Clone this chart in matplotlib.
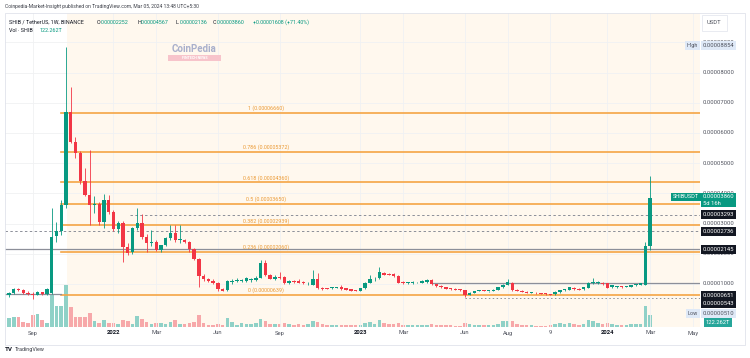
import numpy as np, pandas as pd
import matplotlib
matplotlib.use("Agg")
import matplotlib.pyplot as plt
from matplotlib.transforms import blended_transform_factory
from matplotlib.patches import Rectangle

plt.rcParams["font.family"] = ["Roboto", "DejaVu Sans"]

W, H = 750, 358          # output size in pixels
SC = 1e-5                # prices below are in units of 1e-5 USDT

# ── weekly SHIB/USDT candles (first week = 2021-08-02) ──
opens = [0.62, 0.70, 0.82, 0.79, 0.71, 0.67, 0.64, 0.72, 0.68, 0.70,
         2.58, 2.76, 3.61, 6.70, 5.71, 5.33, 4.42, 3.95, 3.61, 3.66,
         3.06, 3.78, 3.39, 2.81, 3.03, 2.23, 2.07, 2.84, 3.01, 2.57,
         2.36, 2.38, 2.12, 2.29, 2.53, 2.68, 2.46, 2.47, 2.38, 2.14,
         1.81, 1.26, 1.15, 1.10, 1.04, 0.82, 0.80, 1.06, 1.11, 1.11,
         1.10, 1.13, 1.13, 1.21, 1.70, 1.30, 1.16, 1.22, 1.22, 1.04,
         1.10, 1.11, 1.08, 1.02, 0.97, 1.15, 0.87, 0.85, 0.855, 0.88,
         0.91, 0.855, 0.82, 0.80, 0.78, 0.86, 1.04, 1.15, 1.19, 1.35,
         1.32, 1.32, 1.26, 1.08, 1.04, 1.02, 1.05, 1.04, 1.05, 1.13,
         0.99, 0.93, 0.89, 0.855, 0.83, 0.82, 0.80, 0.63, 0.71, 0.77,
         0.77, 0.76, 0.77, 0.81, 0.89, 0.97, 1.02, 0.80, 0.78, 0.74,
         0.71, 0.71, 0.69, 0.69, 0.67, 0.66, 0.72, 0.80, 0.80, 0.88,
         0.84, 0.82, 0.87, 1.02, 1.04, 1.04, 1.02, 0.89, 0.91, 0.91,
         0.90, 0.91, 0.95, 0.97, 0.97, 2.252]
highs = [0.74, 0.86, 0.88, 0.82, 0.76, 0.72, 0.76, 0.74, 0.86, 3.51,
         3.06, 3.78, 8.854, 7.53, 5.88, 5.39, 4.85, 5.43, 3.90, 3.70,
         3.98, 3.95, 3.45, 3.10, 3.10, 2.35, 2.90, 3.51, 3.31, 2.65,
         2.80, 2.45, 2.30, 2.55, 2.95, 2.95, 2.95, 2.50, 2.42, 2.18,
         1.86, 1.32, 1.20, 1.15, 1.08, 0.86, 1.12, 1.15, 1.18, 1.16,
         1.22, 1.18, 1.25, 1.78, 1.78, 1.34, 1.30, 1.41, 1.27, 1.12,
         1.14, 1.15, 1.10, 1.06, 1.46, 1.35, 0.90, 0.88, 0.90, 0.90,
         0.97, 0.87, 0.83, 0.81, 0.86, 1.06, 1.30, 1.22, 1.55, 1.40,
         1.35, 1.36, 1.28, 1.10, 1.08, 1.10, 1.08, 1.12, 1.15, 1.16,
         1.01, 0.95, 0.91, 0.87, 0.85, 0.83, 0.81, 0.72, 0.78, 0.80,
         0.79, 0.78, 0.83, 0.90, 0.99, 1.15, 1.05, 0.82, 0.79, 0.76,
         0.73, 0.73, 0.71, 0.70, 0.68, 0.75, 0.81, 0.82, 0.90, 0.90,
         0.85, 0.90, 1.05, 1.19, 1.10, 1.06, 1.04, 0.97, 0.93, 0.92,
         0.92, 0.97, 1.00, 1.03, 2.40, 4.567]
lows = [0.58, 0.68, 0.76, 0.68, 0.62, 0.51, 0.62, 0.62, 0.64, 0.66,
        2.40, 2.62, 3.50, 5.65, 5.16, 4.30, 3.90, 2.95, 3.35, 2.95,
        2.85, 3.30, 2.75, 2.70, 1.74, 1.95, 2.00, 2.80, 2.50, 2.07,
        2.25, 2.08, 2.05, 2.25, 2.45, 2.40, 2.35, 2.35, 2.05, 1.78,
        0.91, 1.10, 1.05, 1.00, 0.78, 0.76, 0.78, 1.00, 1.05, 1.08,
        1.06, 1.08, 1.10, 1.18, 1.25, 1.15, 1.13, 1.15, 1.00, 1.00,
        1.04, 1.02, 1.00, 0.98, 0.95, 0.83, 0.80, 0.82, 0.84, 0.86,
        0.80, 0.79, 0.77, 0.75, 0.76, 0.84, 1.02, 1.10, 1.16, 1.28,
        1.28, 1.24, 1.02, 1.00, 1.01, 1.00, 1.03, 1.02, 1.03, 0.97,
        0.91, 0.88, 0.83, 0.81, 0.79, 0.78, 0.58, 0.62, 0.70, 0.75,
        0.75, 0.74, 0.76, 0.79, 0.87, 0.95, 0.78, 0.76, 0.73, 0.69,
        0.69, 0.68, 0.66, 0.65, 0.63, 0.65, 0.71, 0.78, 0.79, 0.81,
        0.79, 0.81, 0.86, 1.00, 1.00, 0.97, 0.85, 0.87, 0.88, 0.88,
        0.89, 0.90, 0.93, 0.96, 0.95, 2.136]
closes = [0.70, 0.82, 0.79, 0.71, 0.67, 0.64, 0.72, 0.68, 0.82, 2.56,
          2.76, 3.61, 6.70, 5.71, 5.33, 4.42, 3.95, 3.61, 3.66, 3.06,
          3.78, 3.39, 2.81, 3.03, 2.23, 2.03, 2.84, 3.01, 2.57, 2.36,
          2.40, 2.12, 2.29, 2.53, 2.68, 2.46, 2.47, 2.38, 2.14, 1.81,
          1.26, 1.15, 1.10, 1.04, 0.82, 0.78, 1.10, 1.11, 1.13, 1.13,
          1.18, 1.13, 1.21, 1.70, 1.30, 1.16, 1.22, 1.20, 1.02, 1.10,
          1.08, 1.04, 1.02, 1.03, 1.15, 0.85, 0.82, 0.84, 0.89, 0.88,
          0.82, 0.80, 0.78, 0.77, 0.855, 1.04, 1.15, 1.17, 1.41, 1.30,
          1.31, 1.26, 1.04, 1.02, 1.04, 1.08, 1.06, 1.10, 1.13, 0.99,
          0.93, 0.89, 0.84, 0.82, 0.80, 0.80, 0.63, 0.71, 0.77, 0.77,
          0.76, 0.77, 0.81, 0.89, 0.97, 1.07, 0.80, 0.77, 0.74, 0.70,
          0.71, 0.69, 0.67, 0.66, 0.64, 0.74, 0.80, 0.80, 0.89, 0.82,
          0.80, 0.89, 1.02, 1.05, 1.04, 0.99, 0.865, 0.965, 0.91, 0.89,
          0.91, 0.965, 0.99, 1.02, 2.252, 3.860]
volumes_t = [90, 100, 100, 50, 40, 120, 130, 70, 40, 320,
             210, 210, 420, 200, 100, 100, 100, 140, 60, 40,
             70, 40, 40, 30, 70, 60, 30, 110, 80, 50,
             30, 40, 40, 30, 50, 70, 30, 30, 40, 50,
             120, 40, 25, 25, 30, 25, 90, 50, 25, 40,
             30, 30, 40, 80, 60, 35, 30, 30, 40, 30,
             25, 30, 25, 30, 60, 50, 35, 25, 20, 20,
             25, 20, 20, 20, 25, 45, 50, 35, 70, 45,
             30, 30, 40, 25, 20, 20, 20, 20, 25, 30,
             25, 20, 20, 20, 15, 15, 45, 30, 25, 20,
             20, 20, 25, 35, 60, 65, 60, 30, 25, 25,
             20, 15, 15, 15, 20, 35, 40, 30, 40, 30,
             25, 35, 70, 60, 40, 35, 45, 30, 25, 20,
             20, 30, 30, 35, 210, 122.262]

fib_ratio = ["0", "0.236", "0.382", "0.5", "0.618", "0.786", "1"]
fib_price = [0.639, 2.060, 2.939, 3.650, 4.360, 5.372, 6.660]

price_ticks = [1, 2, 3, 4, 5, 6, 7, 8, 9]
marker_prices = [3.293, 2.736, 2.145, 0.651, 0.543]   # black boxes on the scale

tick_dates = ["2021-09-06", "2022-01-03", "2022-03-07", "2022-06-06", "2022-09-05",
              "2023-01-02", "2023-03-06", "2023-06-05", "2023-08-07", "2023-10-09",
              "2024-01-01", "2024-03-04", "2024-05-06"]
tick_labels = ["Sep", "2022", "Mar", "Jun", "Sep", "2023", "Mar", "Jun", "Aug", "9",
               "2024", "Mar", "May"]

UP, DOWN = "#089981", "#f23645"
VUP, VDOWN = "#8fd1c7", "#f7a8aa"
FIB = "#f5a444"
FIBTXT = "#eb9a35"
GREY = "#8c8f99"
TXT = "#50535e"


def fx(px):
    return px / W


def fy(py):
    return 1 - py / H


o = np.array(opens) * SC
h = np.array(highs) * SC
l = np.array(lows) * SC
c = np.array(closes) * SC
x = np.arange(len(o))
start = pd.Timestamp("2021-08-02")
tick_x = [(pd.Timestamp(d) - start).days / 7 for d in tick_dates]

fig = plt.figure(figsize=(W / 100, H / 100), dpi=100)
rect = [fx(5), fy(327), fx(700) - fx(5), fy(13) - fy(327)]
XL = (-0.84, 145.5)

# ── volume pane (underneath) ──────────────────────────────────────────────────
axv = fig.add_axes(rect)
axv.set_xlim(*XL)
axv.set_ylim(0, 3140)
axv.axvspan(12.2, XL[1], color="#fff8ee", lw=0, zorder=0)
up = c >= o
axv.bar(x, volumes_t, width=0.75, color=np.where(up, VUP, VDOWN), lw=0, zorder=2)
axv.axis("off")

# ── price pane ────────────────────────────────────────────────────────────────
ax = fig.add_axes(rect)
ax.patch.set_alpha(0)
ax.set_xlim(*XL)
ax.set_ylim(-0.426 * SC, 9.97 * SC)
for t in price_ticks:
    ax.axhline(t * SC, color="#f0f1f3", lw=0.6, zorder=0)
for t in tick_x:
    ax.axvline(t, color="#f0f1f3", lw=0.6, zorder=0)

# fib retracement
for r, p in zip(fib_ratio, fib_price):
    ax.plot([10.95, XL[1]], [p * SC, p * SC], color=FIB, lw=1.2, zorder=2)
    ax.text(54.1, p * SC + 0.06 * SC, f"{r} ({p * SC:.8f})", color=FIBTXT,
            fontsize=3.9, ha="center", va="bottom", zorder=3)

# horizontal levels
ax.plot([XL[0], XL[1]], [2.145 * SC] * 2, color=GREY, lw=0.9, zorder=2)
ax.plot([XL[0], 11], [0.651 * SC] * 2, color=GREY, lw=0.9, zorder=2)
ax.plot([89.3, XL[1]], [1.02 * SC] * 2, color=GREY, lw=0.9, zorder=2)
ax.plot([XL[0], XL[1]], [2.736 * SC] * 2, color=GREY, lw=0.7, ls=(0, (2.5, 2.5)), zorder=2)
ax.plot([25.5, XL[1]], [3.293 * SC] * 2, color=GREY, lw=0.7, ls=(0, (2.5, 2.5)), zorder=2)
ax.plot([96, XL[1]], [0.543 * SC] * 2, color=GREY, lw=0.7, ls=(0, (1.5, 2.5)), zorder=2)

# candles
col = np.where(up, UP, DOWN)
ax.vlines(x, l, h, colors=col, lw=0.6, zorder=4)
body = np.maximum(np.abs(c - o), 0.025 * SC)
ax.bar(x, body, bottom=np.minimum(o, c), width=0.72, color=col, lw=0, zorder=5)
ax.axis("off")

# ── time axis ─────────────────────────────────────────────────────────────────
for t, lab in zip(tick_x, tick_labels):
    px = 9 + 4.75 * t
    year = lab.isdigit() and len(lab) == 4
    ax.text(fx(px), fy(333), lab, transform=fig.transFigure, fontsize=4.2,
            color="#131722" if year else TXT, fontweight="bold" if year else "normal",
            ha="center", va="center")

# ── price scale ───────────────────────────────────────────────────────────────
tr = blended_transform_factory(fig.transFigure, ax.transData)
for t in price_ticks:
    ax.text(fx(703), t * SC, f"{t * SC:.8f}", transform=tr, fontsize=4.2,
            color=TXT, va="center", ha="left", clip_on=False)
# the two lowest boxes get pushed apart on the scale, as TradingView does
nudge = {0.651: -1.0, 0.543: -5.8}
for p in marker_prices:
    yp = 113 + (6.66 - p) * 30.2 - nudge.get(p, 0) if p in nudge else None
    kw = dict(fontsize=4.2, color="white", va="center", ha="left",
              bbox=dict(boxstyle="square,pad=0.3", fc="#131722", ec="none"))
    if yp is None:
        ax.text(fx(703), p * SC, f"{p * SC:.8f}", transform=tr, **kw)
    else:
        ax.text(fx(703), fy(yp), f"{p * SC:.8f}", transform=fig.transFigure, **kw)
ax.text(fx(703), fy(200), "0.00003860\n5d 16h", transform=fig.transFigure,
        fontsize=4.2, color="white", va="center", ha="left", linespacing=1.3,
        bbox=dict(boxstyle="square,pad=0.3", fc="#089981", ec="none"))
ax.text(fx(699), fy(197), "SHIBUSDT", transform=fig.transFigure, fontsize=4.0,
        color="white", va="center", ha="right",
        bbox=dict(boxstyle="square,pad=0.3", fc="#089981", ec="none"))
ax.text(fx(703), fy(45.5), "0.00008854", transform=fig.transFigure, fontsize=4.2,
        color=TXT, va="center", ha="left",
        bbox=dict(boxstyle="square,pad=0.3", fc="#dfe9f7", ec="none"))
ax.text(fx(698), fy(45.5), "High", transform=fig.transFigure, fontsize=4.0,
        color=TXT, va="center", ha="right",
        bbox=dict(boxstyle="square,pad=0.3", fc="#dfe9f7", ec="none"))
ax.text(fx(703), fy(313.5), "0.00000510", transform=fig.transFigure, fontsize=4.2,
        color=TXT, va="center", ha="left",
        bbox=dict(boxstyle="square,pad=0.3", fc="#dfe9f7", ec="none"))
ax.text(fx(698), fy(313.5), "Low", transform=fig.transFigure, fontsize=4.0,
        color=TXT, va="center", ha="right",
        bbox=dict(boxstyle="square,pad=0.3", fc="#dfe9f7", ec="none"))
ax.text(fx(706), fy(322.5), "122.262T", transform=fig.transFigure, fontsize=4.2,
        color="white", va="center", ha="left",
        bbox=dict(boxstyle="square,pad=0.3", fc="#26a69a", ec="none"))
ax.text(fx(707), fy(23), "USDT", transform=fig.transFigure, fontsize=4.2,
        color=TXT, va="center", ha="left",
        bbox=dict(boxstyle="square,pad=0.9", fc="white", ec="#e0e3eb", lw=0.5))

# ── header / legend ───────────────────────────────────────────────────────────
fig.text(fx(5), fy(6.5), "Coinpedia-Market-Insight published on TradingView.com, "
         "Mar 05, 2024 13:48 UTC+5:30", fontsize=3.6, color="#3b3e47", va="center")
fig.text(fx(9), fy(22), "SHIB / TetherUS, 1W, BINANCE", fontsize=3.9,
         color="#131722", va="center")
for px, lab, val in [(97, "O", "0.00002252"), (137, "H", "0.00004567"),
                     (176, "L", "0.00002136"), (213, "C", "0.00003860")]:
    fig.text(fx(px), fy(22), lab, fontsize=3.9, color="#131722", va="center")
    fig.text(fx(px + 3.5), fy(22), val, fontsize=3.9, color=UP, va="center")
fig.text(fx(253), fy(22), "+0.00001608 (+71.40%)", fontsize=3.9, color=UP, va="center")
fig.text(fx(9), fy(30), "Vol · SHIB", fontsize=3.9, color="#131722", va="center")
fig.text(fx(40), fy(30), "122.262T", fontsize=3.9, color=UP, va="center")

# watermark
fig.text(fx(194), fy(49), "CoinPedia", fontsize=7, fontweight="bold",
         color="#a9b0cc", ha="center", va="center")
fig.patches.append(Rectangle((fx(168), fy(61)), fx(221) - fx(168), fy(55) - fy(61),
                             transform=fig.transFigure, fc="#f7c4cb", ec="none"))
fig.text(fx(194.5), fy(58), "FINTECH NEWS", fontsize=2.6, fontweight="bold",
         color="white", ha="center", va="center")

# frame and footer
fig.patches.append(Rectangle((fx(5), fy(345)), fx(745) - fx(5), fy(13) - fy(345),
                             transform=fig.transFigure, fill=False, ec="#e0e3eb", lw=0.6))
fig.text(fx(5), fy(349.5), "TV", fontsize=4.5, fontweight="bold", color="#131722",
         va="center")
fig.text(fx(15), fy(349.5), "TradingView", fontsize=3.9, color="#3b3e47", va="center")

fig.savefig("out.png", dpi=100)
